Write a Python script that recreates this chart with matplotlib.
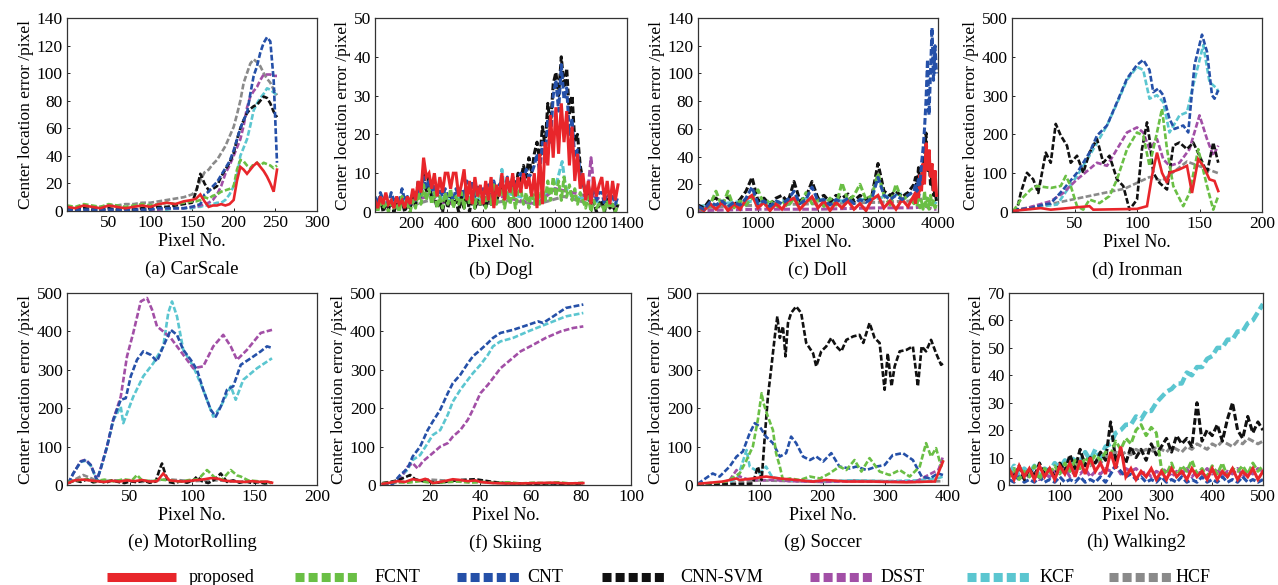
import numpy as np
import matplotlib
matplotlib.use("Agg")
import matplotlib.pyplot as plt
from matplotlib.lines import Line2D

plt.rcParams['font.family'] = ['Liberation Serif', 'DejaVu Serif']

# tracker names and colours
trackers = ["proposed", "FCNT", "CNT", "CNN-SVM", "DSST", "KCF", "HCF"]
colors = {"proposed": "#e8262b", "FCNT": "#6abf45", "CNT": "#2550a8",
          "CNN-SVM": "#111111", "DSST": "#a24fa6", "KCF": "#5bc6d0", "HCF": "#8a8a8a"}

# (a) CarScale
car_x = [0, 10, 20, 30, 40, 50, 60, 70, 80, 90, 100, 110, 120, 130, 140, 150,
         155, 160, 165, 170, 175, 180, 185, 190, 195, 200,
         204, 208, 212, 216, 220, 224, 228, 232, 236, 240, 244, 248, 252]
car_proposed = [3, 2, 4, 3, 2, 4, 3, 2, 3, 4, 3, 5, 6, 5, 7, 8,
                9, 12, 7, 3, 4, 4, 5, 4, 5, 8,
                22, 32, 30, 27, 30, 33, 35, 32, 29, 25, 20, 14, 30]
car_fcnt = [4, 3, 5, 4, 3, 5, 4, 3, 4, 5, 4, 5, 6, 5, 6, 7,
            7, 8, 10, 9, 11, 12, 14, 15, 16, 18,
            30, 37, 36, 33, 31, 34, 35, 33, 35, 34, 33, 31, 33]
car_cnt = [1, 1, 1, 1, 1, 1, 1, 1, 1, 1, 1, 2, 2, 2, 2, 3,
           4, 5, 12, 14, 18, 21, 26, 31, 36, 44,
           52, 60, 66, 71, 85, 98, 105, 115, 122, 126, 123, 95, 35]
car_cnnsvm = [2, 1, 2, 1, 1, 2, 1, 2, 1, 2, 2, 3, 3, 4, 5, 6,
              14, 27, 20, 15, 16, 18, 25, 30, 35, 42,
              52, 60, 66, 71, 74, 76, 77, 80, 83, 82, 78, 72, 68]
car_dsst = [1, 1, 1, 1, 1, 1, 1, 1, 1, 1, 1, 1, 2, 2, 2, 3,
            3, 4, 5, 6, 8, 12, 18, 27, 33, 40,
            46, 52, 62, 75, 83, 87, 90, 95, 99, 99, 99, 98, 98]
car_kcf = [1, 1, 1, 1, 1, 1, 1, 1, 1, 1, 1, 1, 1, 2, 2, 2,
           3, 3, 4, 4, 5, 6, 6, 8, 12, 18,
           25, 40, 46, 52, 62, 73, 78, 82, 85, 89, 88, 86, 84]
car_hcf = [2, 2, 3, 3, 3, 4, 4, 5, 5, 6, 6, 7, 8, 9, 10, 12,
           15, 22, 28, 30, 34, 37, 42, 47, 54, 61,
           70, 80, 93, 100, 107, 110, 108, 105, 100, 96, 93, 88, 84]

# (b) Dogl, sampled every 15 frames
dog_x = list(range(0, 1351, 15))
dog_proposed = [3, 1, 4, 2, 5, 2, 3, 1, 4, 2, 3, 1, 4, 2, 6, 3, 8, 5,
                14, 9, 10, 6, 10, 4, 9, 5, 10, 10, 6, 10, 10, 4, 7, 11,
                3, 8, 2, 9, 4, 7, 2, 8, 3, 9, 1, 7, 4, 10, 3, 9, 5, 10, 4, 9,
                5, 10, 6, 9, 4, 10, 1, 15, 2, 18, 12, 25, 14,
                27, 15, 28, 18, 26, 12, 22, 8, 15, 6,
                10, 3, 8, 2, 9, 4, 7, 9, 3, 8, 2, 8, 3, 7]
dog_cnnsvm = [3, 1, 4, 0, 2, 1, 3, 0, 2, 1, 3, 0, 2, 1, 4, 2, 8, 5,
              11, 5, 9, 3, 4, 1, 3, 0, 4, 1, 5, 2, 3, 0, 4, 1,
              5, 0, 4, 1, 3, 2, 3, 1, 4, 2, 6, 3, 5, 7, 4, 8, 5, 9, 6, 10,
              8, 12, 9, 14, 10, 15, 18, 13, 22, 17, 28, 22, 33,
              36, 30, 40, 32, 37, 25, 30, 18, 20, 12,
              8, 4, 5, 1, 3, 0, 2, 3, 0, 4, 1, 2, 0, 2]
dog_cnt = [4, 2, 5, 3, 4, 2, 5, 3, 4, 2, 6, 3, 4, 2, 5, 3, 6, 4,
           9, 6, 8, 5, 7, 4, 6, 4, 6, 4, 5, 3, 6, 4, 6, 4,
           8, 5, 8, 4, 7, 5, 6, 3, 7, 4, 8, 5, 7, 8, 5, 9, 6, 8, 6, 9,
           10, 8, 11, 9, 10, 12, 15, 10, 18, 13, 24, 18, 30,
           34, 26, 38, 29, 32, 20, 24, 14, 16, 10,
           8, 5, 7, 3, 6, 3, 5, 5, 2, 6, 3, 4, 2, 4]
dog_fcnt = [2, 0, 3, 1, 2, 0, 3, 1, 2, 0, 4, 1, 2, 0, 3, 1, 5, 2,
            7, 3, 6, 2, 5, 1, 4, 1, 5, 2, 6, 1, 4, 2, 5, 1,
            6, 2, 5, 1, 6, 2, 5, 1, 6, 2, 7, 2, 5, 6, 1, 5, 2, 6, 1, 5,
            6, 2, 5, 1, 6, 2, 7, 2, 6, 3, 8, 3, 9,
            4, 8, 3, 9, 4, 7, 3, 6, 2, 5,
            3, 1, 4, 0, 3, 1, 2, 2, 0, 3, 1, 2, 0, 2]
dog_dsst_x = [0, 100, 200, 300, 400, 500, 600, 700, 800, 900, 1000, 1100, 1180, 1200, 1220, 1300, 1350]
dog_dsst = [2, 1, 3, 4, 2, 3, 2, 4, 3, 2, 6, 5, 4, 14, 4, 2, 1]
dog_kcf_x = [0, 100, 200, 300, 400, 500, 600, 690, 705, 720, 800, 900, 1000, 1040, 1060, 1100, 1200, 1300, 1350]
dog_kcf = [3, 2, 4, 5, 3, 4, 3, 5, 11, 5, 4, 3, 6, 13, 6, 4, 3, 2, 2]
dog_hcf_x = [0, 150, 300, 450, 600, 750, 900, 1050, 1200, 1350]
dog_hcf = [2, 1, 3, 2, 2, 3, 2, 4, 2, 1]

# (c) Doll, every 100 frames then every 25 near the end
doll_x = list(range(0, 3601, 100)) + list(range(3625, 3976, 25))
doll_proposed = [4, 1, 6, 2, 7, 1, 6, 2, 9, 12, 3, 7, 1, 6, 2, 8, 10, 2, 7, 11,
                 3, 8, 1, 7, 3, 8, 2, 6, 1, 9, 12, 3, 8, 2, 9, 4, 12,
                 6, 18, 10, 27, 15, 35, 20, 50, 30, 45, 25, 35, 15, 30, 12]
doll_cnnsvm = [5, 3, 9, 10, 6, 11, 5, 9, 15, 25, 8, 10, 5, 10, 12, 7, 22, 8, 11, 22,
               10, 12, 7, 12, 10, 13, 8, 12, 9, 12, 35, 15, 12, 15, 11, 14, 20,
               25, 18, 32, 22, 30, 32, 40, 57, 30, 40, 20, 25, 12, 15, 8]
doll_fcnt = [3, 1, 5, 15, 4, 15, 3, 8, 5, 10, 16, 5, 9, 3, 8, 4, 10, 5, 14, 6,
             9, 4, 10, 5, 21, 8, 12, 20, 9, 12, 28, 12, 5, 20, 8, 12, 6,
             10, 5, 12, 3, 8, 2, 15, 4, 10, 2, 12, 5, 8, 3, 6]
doll_cnt = [4, 2, 7, 5, 8, 4, 7, 5, 10, 18, 6, 8, 4, 8, 6, 9, 15, 6, 9, 18,
            8, 9, 5, 9, 7, 10, 6, 9, 7, 10, 25, 12, 9, 12, 9, 12, 15,
            20, 15, 25, 20, 35, 45, 60, 80, 110, 70, 100, 133, 95, 120, 100]
doll_kcf_x = [0, 400, 800, 1200, 1600, 2000, 2400, 2800, 3000, 3200, 3400, 3600, 3700, 3800, 3900, 3975]
doll_kcf = [4, 6, 8, 6, 10, 9, 8, 9, 10, 12, 13, 13, 12, 10, 8, 6]
doll_dsst_x = [0, 1000, 2000, 3000, 3600, 3800, 3900, 3975]
doll_dsst = [1, 2, 2, 3, 3, 4, 2, 2]
doll_hcf_x = [0, 1000, 2000, 3000, 3600, 3800, 3975]
doll_hcf = [3, 5, 6, 7, 8, 10, 6]

# (d) Ironman
iron_cnt_x = [1, 4, 15, 25, 31, 41, 52, 62, 68, 76, 84, 92, 100, 105, 110, 113, 117, 121,
              126, 130, 137, 141, 146, 152, 156, 160, 162, 165]
iron_cnt = [3, 6, 10, 19, 22, 58, 101, 153, 197, 223, 283, 344, 379, 392, 366, 309, 318, 301,
            240, 214, 223, 205, 379, 457, 413, 301, 292, 314]
iron_kcf_x = [1, 4, 15, 25, 36, 52, 62, 76, 84, 92, 100, 105, 110, 116, 121, 126, 134, 140,
              145, 153, 158, 164, 165]
iron_kcf = [3, 5, 8, 15, 19, 93, 145, 223, 280, 340, 374, 366, 292, 301, 283, 205, 249, 257,
            327, 430, 335, 318, 309]
iron_dsst_x = [1, 4, 31, 41, 52, 57, 68, 76, 84, 92, 100, 105, 110, 116, 121, 126, 134, 142,
               150, 156, 161, 165]
iron_dsst = [2, 3, 28, 49, 84, 97, 127, 119, 162, 205, 218, 205, 162, 188, 136, 119, 127, 162,
             249, 188, 145, 171]
iron_fcnt_x = [1, 7, 15, 20, 31, 39, 43, 47, 52, 57, 62, 70, 78, 84, 92, 100, 105, 110, 116,
               120, 124, 129, 137, 142, 149, 156, 161, 165]
iron_fcnt = [2, 32, 58, 67, 62, 67, 93, 67, 15, 6, 32, 23, 41, 84, 162, 205, 197, 119, 205,
             266, 162, 67, 15, 49, 162, 67, 6, 41]
iron_cnnsvm_x = [1, 4, 7, 12, 17, 21, 27, 31, 35, 39, 44, 47, 52, 57, 62, 68, 73, 78, 84, 89,
                 94, 100, 104, 108, 110, 113, 118, 124, 129, 134, 140, 145, 150, 156, 161, 165]
iron_cnnsvm = [3, 6, 49, 101, 84, 49, 153, 127, 227, 197, 171, 127, 145, 101, 153, 188, 127,
               145, 84, 67, 6, 32, 162, 231, 188, 101, 75, 58, 171, 179, 162, 179, 145, 101,
               179, 127]
iron_proposed_x = [1, 23, 31, 62, 65, 100, 108, 112, 116, 120, 124, 126, 134, 140, 144, 149,
                   153, 158, 162, 165]
iron_proposed = [3, 10, 6, 15, 6, 8, 15, 93, 153, 101, 75, 101, 110, 119, 49, 136, 119, 84, 80, 54]
iron_hcf_x = [1, 30, 60, 90, 110, 120, 140, 165]
iron_hcf = [5, 20, 40, 60, 90, 80, 130, 100]

# (e) MotorRolling
motor_cnt_x = [1, 5, 11, 15, 19, 24, 27, 32, 37, 43, 47, 51, 56, 61, 67, 72, 77, 83, 88, 93,
               99, 104, 109, 115, 119, 123, 128, 133, 139, 147, 155, 160, 164]
motor_cnt = [4, 30, 61, 65, 52, 13, 43, 100, 170, 222, 226, 283, 326, 348, 339, 322, 361, 404,
             391, 352, 326, 300, 248, 196, 178, 204, 248, 257, 313, 330, 348, 361, 357]
motor_kcf_x = [1, 5, 11, 15, 19, 24, 27, 32, 37, 43, 45, 53, 61, 69, 77, 81, 84, 88, 93, 101,
               109, 117, 123, 131, 135, 141, 152, 164]
motor_kcf = [4, 30, 60, 63, 50, 12, 42, 98, 168, 204, 161, 230, 283, 317, 361, 448, 478, 439,
             352, 309, 248, 178, 204, 257, 222, 274, 304, 330]
motor_dsst_x = [1, 5, 11, 15, 19, 24, 27, 32, 37, 43, 48, 53, 59, 64, 68, 72, 77, 83, 88, 96,
                101, 109, 117, 125, 131, 136, 144, 155, 164]
motor_dsst = [4, 30, 62, 66, 52, 13, 44, 100, 170, 230, 335, 396, 478, 487, 457, 413, 400, 383,
              361, 326, 304, 309, 361, 391, 361, 326, 352, 396, 404]
motor_cnnsvm_x = [1, 6, 11, 16, 21, 26, 31, 36, 41, 46, 51, 56, 61, 66, 71, 74, 76, 78, 81, 86,
                  91, 96, 101, 104, 108, 113, 118, 123, 128, 133, 138, 143, 148, 153, 158, 164]
motor_cnnsvm = [5, 12, 8, 15, 7, 10, 6, 12, 8, 5, 10, 7, 12, 6, 9, 40, 56, 35, 8, 5,
                10, 6, 12, 22, 10, 5, 14, 30, 8, 12, 6, 10, 5, 8, 4, 6]
motor_proposed_x = [1, 6, 13, 18, 24, 30, 36, 42, 48, 54, 60, 66, 72, 77, 82, 88, 93, 99, 105,
                    110, 115, 120, 125, 130, 136, 142, 148, 154, 160, 164]
motor_proposed = [5, 12, 14, 12, 10, 8, 11, 9, 12, 10, 13, 9, 10, 30, 12, 10, 9, 11, 13,
                  15, 18, 17, 12, 10, 9, 8, 10, 8, 9, 6]
motor_fcnt_x = [1, 8, 15, 22, 30, 38, 45, 52, 56, 60, 68, 75, 82, 90, 98, 105, 112, 118, 124,
                131, 136, 139, 145, 152, 158, 164]
motor_fcnt = [8, 12, 15, 10, 14, 9, 15, 12, 26, 12, 10, 14, 12, 9, 13, 15, 39, 20, 14,
              39, 25, 22, 12, 10, 8, 6]
motor_hcf_x = [1, 13, 25, 40, 60, 80, 100, 120, 140, 164]
motor_hcf = [5, 26, 10, 12, 8, 15, 10, 12, 8, 6]

# (f) Skiing
ski_cnt_x = [1, 5, 8, 11, 13, 16, 19, 21, 24, 27, 29, 32, 35, 37, 40, 43, 45, 48, 53, 59, 63,
             65, 69, 74, 81]
ski_cnt = [3, 3, 26, 43, 74, 100, 143, 165, 196, 239, 265, 287, 317, 335, 352, 370, 383, 396,
           404, 417, 426, 422, 439, 461, 470]
ski_kcf_x = [1, 5, 8, 11, 13, 16, 19, 21, 24, 27, 29, 32, 35, 37, 40, 43, 45, 48, 53, 59, 64,
             69, 74, 81]
ski_kcf = [2, 3, 20, 40, 65, 78, 109, 130, 143, 183, 217, 248, 274, 291, 313, 339, 361, 374,
           383, 400, 413, 426, 439, 448]
ski_dsst_x = [1, 5, 8, 11, 13, 15, 17, 21, 24, 27, 29, 32, 35, 37, 40, 43, 45, 48, 52, 56, 61,
              66, 72, 77, 81]
ski_dsst = [2, 3, 15, 48, 57, 43, 61, 83, 100, 109, 126, 143, 170, 196, 239, 261, 278, 304,
            326, 348, 365, 383, 400, 409, 413]
ski_proposed_x = [1, 4, 7, 10, 13, 16, 18, 19, 21, 24, 27, 29, 32, 35, 38, 40, 43, 45, 50, 56,
                  62, 69, 75, 81]
ski_proposed = [3, 6, 10, 8, 15, 12, 16, 14, 5, 8, 12, 15, 13, 10, 12, 8, 6, 5, 4, 4, 5, 6, 4, 5]
ski_cnnsvm_x = [1, 4, 7, 10, 12, 14, 17, 20, 24, 28, 32, 35, 38, 41, 45, 50, 56, 62, 69, 75, 81]
ski_cnnsvm = [5, 8, 12, 20, 26, 15, 10, 8, 6, 10, 13, 14, 15, 12, 8, 5, 4, 3, 4, 3, 3]
ski_fcnt_x = [1, 6, 11, 16, 21, 26, 31, 36, 41, 46, 51, 56, 61, 66, 71, 76, 81]
ski_fcnt = [4, 8, 6, 10, 5, 7, 9, 6, 8, 5, 7, 4, 6, 5, 7, 4, 6]
ski_hcf_x = [1, 10, 15, 20, 25, 30, 40, 50, 60, 70, 81]
ski_hcf = [3, 8, 12, 14, 12, 10, 8, 5, 4, 3, 3]

# (g) Soccer
soc_cnnsvm_x = [1, 20, 40, 60, 80, 89, 97, 103, 108, 113, 118, 124, 128, 132, 137, 141, 145,
                150, 158, 166, 174, 185, 190, 198, 206, 214, 222, 230, 238, 249, 259, 265, 275,
                283, 291, 299, 304, 310, 315, 323, 334, 344, 352, 358, 365, 373, 381, 389, 392]
soc_cnnsvm = [2, 1, 3, 2, 3, 4, 48, 13, 126, 230, 300, 387, 439, 383, 413, 335, 422,
              448, 465, 448, 370, 343, 309, 348, 361, 383, 361, 348, 378, 387, 391, 370, 422,
              383, 370, 248, 343, 257, 309, 348, 352, 361, 257, 361, 348, 378, 343, 313, 317]
soc_cnt_x = [1, 25, 36, 52, 63, 73, 84, 92, 100, 110, 121, 132, 142, 150, 158, 169, 180, 190,
             201, 214, 227, 243, 254, 270, 286, 299, 312, 328, 344, 358, 371, 384, 392]
soc_cnt = [3, 30, 22, 48, 74, 87, 135, 161, 152, 126, 109, 74, 83, 126, 109, 74, 65, 74,
           61, 83, 48, 43, 48, 39, 48, 52, 78, 83, 65, 22, 17, 30, 26]
soc_fcnt_x = [1, 47, 68, 79, 89, 97, 103, 106, 113, 121, 126, 132, 137, 148, 164, 180, 196,
              211, 227, 238, 251, 262, 275, 291, 307, 323, 339, 355, 365, 373, 381, 389, 392]
soc_fcnt = [2, 9, 30, 65, 100, 170, 239, 213, 178, 143, 83, 48, 13, 17, 13, 22, 17,
            30, 48, 39, 65, 35, 70, 35, 26, 39, 22, 48, 109, 74, 96, 48, 65]
soc_proposed_x = [1, 41, 52, 63, 68, 89, 110, 132, 158, 185, 206, 238, 280, 334, 371, 379,
                  383, 388, 392]
soc_proposed = [3, 9, 13, 17, 13, 17, 22, 17, 13, 9, 13, 9, 9, 7, 9, 9, 25, 45, 61]
soc_kcf_x = [1, 50, 65, 73, 79, 84, 92, 100, 110, 120, 150, 200, 250, 300, 350, 385, 392]
soc_kcf = [2, 5, 20, 61, 91, 48, 40, 30, 48, 20, 12, 10, 12, 10, 12, 18, 22]
soc_dsst_x = [1, 50, 63, 68, 80, 100, 121, 150, 200, 250, 300, 350, 385, 392]
soc_dsst = [2, 8, 39, 22, 15, 12, 13, 10, 8, 10, 8, 10, 40, 74]
soc_hcf_x = [1, 60, 100, 150, 200, 250, 300, 350, 392]
soc_hcf = [2, 6, 12, 10, 8, 12, 10, 8, 10]

# (h) Walking2, every 10 frames
walk_x = list(range(0, 501, 10))
walk_kcf = [4, 7, 3, 6, 4, 7, 3, 6, 5, 8, 6, 9, 7, 10, 8, 12, 9, 13, 10, 14,
            15, 19, 20, 22, 22, 25, 24, 27, 27, 30, 32, 34, 35, 37, 37, 41, 40, 43, 43, 46,
            47, 50, 50, 53, 53, 56, 56, 59, 60, 63, 66]
walk_cnnsvm = [5, 3, 7, 2, 6, 3, 8, 4, 6, 3, 8, 5, 11, 6, 13, 7, 10, 8, 12, 9,
               23, 9, 12, 8, 14, 10, 13, 9, 15, 11, 14, 17, 12, 18, 15, 17, 14, 30, 16, 20,
               18, 22, 16, 24, 30, 20, 17, 25, 19, 23, 20]
walk_fcnt = [3, 6, 2, 5, 3, 7, 2, 6, 4, 7, 4, 8, 5, 9, 6, 10, 8, 11, 9, 12,
             11, 16, 13, 17, 15, 20, 22, 18, 21, 19, 6, 4, 8, 3, 7, 5, 9, 4, 6, 3,
             7, 4, 8, 3, 6, 5, 7, 4, 8, 5, 7]
walk_proposed = [6, 2, 7, 3, 6, 2, 7, 3, 6, 2, 7, 4, 8, 3, 9, 4, 10, 5, 8, 4,
                 12, 6, 14, 3, 6, 2, 5, 3, 6, 2, 5, 2, 6, 3, 5, 2, 6, 3, 5, 2,
                 6, 2, 5, 3, 6, 2, 5, 3, 6, 2, 5]
walk_cnt = [2, 1, 3, 1, 2, 1, 3, 1, 2, 1, 3, 1, 2, 1, 3, 1, 2, 1, 3, 1,
            4, 7, 5, 3, 4, 2, 3, 1, 2, 1, 3, 1, 2, 1, 3, 1, 2, 1, 3, 1,
            2, 1, 3, 1, 2, 1, 3, 1, 2, 1, 2]
walk_dsst = [3, 5, 2, 4, 3, 5, 2, 4, 3, 5, 4, 6, 3, 5, 4, 6, 3, 5, 4, 6,
             5, 7, 4, 6, 5, 6, 4, 5, 3, 5, 4, 6, 3, 5, 4, 6, 3, 5, 4, 6,
             4, 6, 3, 5, 4, 6, 3, 5, 4, 6, 5]
walk_hcf = [3, 5, 2, 4, 3, 5, 2, 4, 3, 5, 4, 6, 5, 7, 6, 8, 7, 9, 8, 10,
            10, 12, 11, 12, 11, 13, 12, 13, 12, 14, 13, 12, 14, 13, 12, 14, 13, 15, 14, 13,
            15, 14, 16, 15, 14, 16, 15, 17, 16, 15, 16]

W, H = 1278, 585
fig = plt.figure(figsize=(W / 100, H / 100), dpi=100)


def box(l, t, r, b):
    return [l / W, 1 - b / H, (r - l) / W, (b - t) / H]


panels = [
    # rect, xlim, xticks, ylim, yticks, caption, series (x, y, name) in draw order, noisy
    (box(67, 18, 317, 211), 300, range(50, 301, 50), 140, range(0, 141, 20), "(a) CarScale",
     [(car_x, car_hcf, "HCF"), (car_x, car_kcf, "KCF"), (car_x, car_dsst, "DSST"),
      (car_x, car_cnnsvm, "CNN-SVM"), (car_x, car_cnt, "CNT"), (car_x, car_fcnt, "FCNT"),
      (car_x, car_proposed, "proposed")], False),
    (box(375, 18, 627, 212), 1400, range(200, 1401, 200), 50, range(0, 51, 10), "(b) Dogl",
     [(dog_hcf_x, dog_hcf, "HCF"), (dog_kcf_x, dog_kcf, "KCF"), (dog_dsst_x, dog_dsst, "DSST"),
      (dog_x, dog_cnnsvm, "CNN-SVM"), (dog_x, dog_cnt, "CNT"), (dog_x, dog_fcnt, "FCNT"),
      (dog_x, dog_proposed, "proposed")], True),
    (box(698, 18, 938, 212), 4000, range(1000, 4001, 1000), 140, range(0, 141, 20), "(c) Doll",
     [(doll_hcf_x, doll_hcf, "HCF"), (doll_kcf_x, doll_kcf, "KCF"), (doll_dsst_x, doll_dsst, "DSST"),
      (doll_x, doll_cnnsvm, "CNN-SVM"), (doll_x, doll_fcnt, "FCNT"),
      (doll_x, doll_proposed, "proposed"), (doll_x, doll_cnt, "CNT")], True),
    (box(1012, 18, 1262, 212), 200, range(50, 201, 50), 500, range(0, 501, 100), "(d) Ironman",
     [(iron_hcf_x, iron_hcf, "HCF"), (iron_kcf_x, iron_kcf, "KCF"), (iron_dsst_x, iron_dsst, "DSST"),
      (iron_cnnsvm_x, iron_cnnsvm, "CNN-SVM"), (iron_cnt_x, iron_cnt, "CNT"),
      (iron_fcnt_x, iron_fcnt, "FCNT"), (iron_proposed_x, iron_proposed, "proposed")], False),
    (box(67, 293, 317, 485), 200, range(50, 201, 50), 500, range(0, 501, 100), "(e) MotorRolling",
     [(motor_hcf_x, motor_hcf, "HCF"), (motor_kcf_x, motor_kcf, "KCF"),
      (motor_dsst_x, motor_dsst, "DSST"), (motor_cnnsvm_x, motor_cnnsvm, "CNN-SVM"),
      (motor_cnt_x, motor_cnt, "CNT"), (motor_fcnt_x, motor_fcnt, "FCNT"),
      (motor_proposed_x, motor_proposed, "proposed")], False),
    (box(380, 293, 631, 485), 100, range(20, 101, 20), 500, range(0, 501, 100), "(f) Skiing",
     [(ski_hcf_x, ski_hcf, "HCF"), (ski_kcf_x, ski_kcf, "KCF"), (ski_dsst_x, ski_dsst, "DSST"),
      (ski_cnnsvm_x, ski_cnnsvm, "CNN-SVM"), (ski_cnt_x, ski_cnt, "CNT"),
      (ski_fcnt_x, ski_fcnt, "FCNT"), (ski_proposed_x, ski_proposed, "proposed")], False),
    (box(697, 293, 948, 485), 400, range(100, 401, 100), 500, range(0, 501, 100), "(g) Soccer",
     [(soc_hcf_x, soc_hcf, "HCF"), (soc_kcf_x, soc_kcf, "KCF"), (soc_dsst_x, soc_dsst, "DSST"),
      (soc_cnnsvm_x, soc_cnnsvm, "CNN-SVM"), (soc_cnt_x, soc_cnt, "CNT"),
      (soc_fcnt_x, soc_fcnt, "FCNT"), (soc_proposed_x, soc_proposed, "proposed")], False),
    (box(1009, 293, 1263, 485), 500, range(100, 501, 100), 70, range(0, 71, 10), "(h) Walking2",
     [(walk_x, walk_hcf, "HCF"), (walk_x, walk_kcf, "KCF"), (walk_x, walk_dsst, "DSST"),
      (walk_x, walk_cnt, "CNT"), (walk_x, walk_cnnsvm, "CNN-SVM"), (walk_x, walk_fcnt, "FCNT"),
      (walk_x, walk_proposed, "proposed")], True),
]

for rect, xmax, xticks, ymax, yticks, caption, series, noisy in panels:
    ax = fig.add_axes(rect)
    for xs, ys, name in series:
        lw = 2.2 if noisy else 1.9
        if name == "KCF" and caption.startswith("(h)"):
            lw = 3.2
        if name == "proposed":
            ax.plot(xs, ys, color=colors[name], lw=lw, solid_joinstyle="miter")
        else:
            ax.plot(xs, ys, color=colors[name], lw=lw, linestyle=(0, (2.2, 0.9)))
    ax.set_xlim(0, xmax)
    ax.set_ylim(0, ymax)
    ax.set_xticks(list(xticks))
    ax.set_yticks(list(yticks))
    ax.tick_params(direction="in", length=2, width=0.6, labelsize=12.5, pad=3)
    for sp in ax.spines.values():
        sp.set_linewidth(0.9)
        sp.set_color("#333333")
    ax.set_ylabel("Center location error /pixel", fontsize=12.5, labelpad=2)
    ax.set_xlabel("Pixel No.", fontsize=13, labelpad=1)
    ax.text(0.5, -0.30, caption, transform=ax.transAxes, ha="center", va="center", fontsize=13.5)

# legend strip along the bottom
leg_y = 1 - 577 / H
leg_items = [("proposed", 107, 176, 189), ("FCNT", 295, 358, 375), ("CNT", 457, 522, 527),
             ("CNN-SVM", 602, 665, 680), ("DSST", 810, 873, 881), ("KCF", 967, 1030, 1040),
             ("HCF", 1109, 1172, 1176)]
for name, x0, x1, tx in leg_items:
    if name == "proposed":
        ls = "-"
    else:
        ls = (0, (1.0, 0.45))
    fig.add_artist(Line2D([x0 / W, x1 / W], [leg_y, leg_y], transform=fig.transFigure,
                          color=colors[name], lw=6.5, linestyle=ls,
                          solid_capstyle="butt", dash_capstyle="butt"))
    fig.text(tx / W, leg_y, name, ha="left", va="center", fontsize=13)

fig.savefig("out.png", dpi=100)
